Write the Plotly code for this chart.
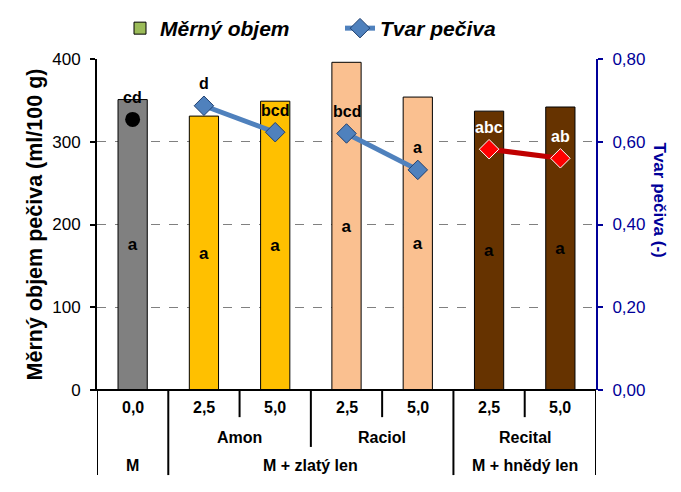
import plotly.graph_objects as go

# ---- data ----
dose_labels = ["0,0", "2,5", "5,0", "2,5", "5,0", "2,5", "5,0"]
variety_labels = ["Amon", "Raciol", "Recital"]
variety_span = [(1, 2), (3, 4), (5, 6)]
group_labels = ["M", "M + zlatý len", "M + hnědý len"]
group_span = [(0, 0), (1, 4), (5, 6)]
objem = [351, 331, 349, 396, 354, 337, 342]
objem_letters = ["a", "a", "a", "a", "a", "a", "a"]
tvar = [0.654, 0.687, 0.623, 0.620, 0.532, 0.582, 0.560]
tvar_letters = ["cd", "d", "bcd", "bcd", "a", "abc", "ab"]
bar_colors = ["#808080", "#FFC000", "#FFC000", "#FAC090", "#FAC090", "#663300", "#663300"]
letter_colors = ["black", "black", "black", "black", "black", "white", "white"]

x = list(range(len(objem)))
FONT = "Liberation Sans, Arial, sans-serif"
NAVY = "#000099"

fig = go.Figure()

# bars
fig.add_trace(go.Bar(
    x=x, y=objem, marker=dict(color=bar_colors, line=dict(color="black", width=1)),
    width=0.41, text=objem_letters, textposition="inside", insidetextanchor="middle",
    textangle=0, textfont=dict(family=FONT, size=17, color="black", weight="bold"),
    showlegend=False, hoverinfo="skip"))
# legend-only bar
fig.add_trace(go.Bar(x=[0], y=[None], name="Měrný objem",
                     marker=dict(color="#9BBB59", line=dict(color="black", width=1))))

# Tvar lines
blue_x = [1, 2, None, 3, 4]
blue_y = [tvar[1], tvar[2], None, tvar[3], tvar[4]]
fig.add_trace(go.Scatter(
    x=blue_x, y=blue_y, yaxis="y2", mode="lines+markers", name="Tvar pečiva",
    line=dict(color="#4F81BD", width=5),
    marker=dict(symbol="diamond", size=15, color="#4F81BD", line=dict(color="#1F3F6F", width=1)),
    connectgaps=False))
fig.add_trace(go.Scatter(
    x=[5, 6], y=[tvar[5], tvar[6]], yaxis="y2", mode="lines+markers", showlegend=False,
    line=dict(color="#C00000", width=5),
    marker=dict(symbol="diamond", size=15, color="#FF0000", line=dict(color="white", width=1))))
fig.add_trace(go.Scatter(
    x=[0], y=[tvar[0]], yaxis="y2", mode="markers", showlegend=False,
    marker=dict(symbol="circle", size=15, color="black")))

# point letters
for i in x:
    fig.add_annotation(x=i, y=tvar[i], yref="y2", text=tvar_letters[i], showarrow=False,
                       yshift=22, font=dict(family=FONT, size=16, color=letter_colors[i], weight="bold"))

# category table below
for i in x:
    fig.add_annotation(x=i, y=-0.054, yref="paper", yanchor="middle", text=dose_labels[i],
                       showarrow=False, font=dict(family=FONT, size=16, color="black", weight="bold"))
for lab, (a, b) in zip(variety_labels, variety_span):
    fig.add_annotation(x=(a + b) / 2, y=-0.142, yref="paper", yanchor="middle", text=lab,
                       showarrow=False, font=dict(family=FONT, size=16, color="black", weight="bold"))
for lab, (a, b) in zip(group_labels, group_span):
    fig.add_annotation(x=(a + b) / 2, y=-0.228, yref="paper", yanchor="middle", text=lab,
                       showarrow=False, font=dict(family=FONT, size=16, color="black", weight="bold"))

# separator lines
row1_bot, row2_bot, row3_bot = -0.082, -0.172, -0.257
seps = {-0.5: row3_bot, 0.5: row3_bot, 1.5: row1_bot, 2.5: row2_bot, 3.5: row1_bot,
        4.5: row3_bot, 5.5: row1_bot, 6.5: row3_bot}
for xs, yb in seps.items():
    fig.add_shape(type="line", x0=xs, x1=xs, y0=0, y1=yb, xref="x", yref="paper",
                  line=dict(color="black", width=2))
# x axis baseline
fig.add_shape(type="line", x0=-0.01, x1=1, y0=0, y1=0, xref="paper", yref="paper",
              line=dict(color="black", width=2))

# right axis title
fig.add_annotation(x=1, xref="paper", xshift=75, y=0.574, yref="paper", text="Tvar pečiva (-)",
                   textangle=90, showarrow=False,
                   font=dict(family=FONT, size=17, color=NAVY, weight="bold"))

fig.update_layout(
    width=681, height=492,
    margin=dict(l=89, r=93, t=51, b=110, autoexpand=False),
    plot_bgcolor="white", paper_bgcolor="white",
    barmode="overlay",
    font=dict(family=FONT, size=17, color="black"),
    legend=dict(orientation="h", x=112 / 681, xref="container", xanchor="left",
                y=1.0, yref="container", yanchor="top",
                font=dict(family=FONT, size=21, style="italic", weight="bold"),
                itemwidth=30, entrywidth=175, traceorder="normal", bgcolor="rgba(0,0,0,0)"),
    xaxis=dict(range=[-0.5, 6.5], showticklabels=False, showgrid=False, zeroline=False,
               showline=False, ticks=""),
    yaxis=dict(range=[0, 400], tickvals=[0, 100, 200, 300, 400], showline=True,
               linecolor="black", linewidth=2, ticks="outside", ticklen=5, tickwidth=2,
               tickcolor="black", showgrid=True, gridcolor="#808080", griddash="dash",
               gridwidth=1, zeroline=False, tickfont=dict(size=17, color="black"),
               ticklabelstandoff=6,
               title=dict(text="Měrný objem pečiva (ml/100 g)", standoff=4,
                          font=dict(size=21.5, color="black", weight="bold"))),
    yaxis2=dict(range=[0, 0.8], overlaying="y", side="right", tickvals=[0, 0.2, 0.4, 0.6, 0.8],
                ticktext=["0,00", "0,20", "0,40", "0,60", "0,80"], showline=True,
                linecolor=NAVY, linewidth=2, ticks="outside", ticklen=5, tickwidth=2,
                tickcolor=NAVY, showgrid=False, zeroline=False, ticklabelstandoff=6,
                tickfont=dict(size=17, color=NAVY)),
)

fig.write_html("out.html")
